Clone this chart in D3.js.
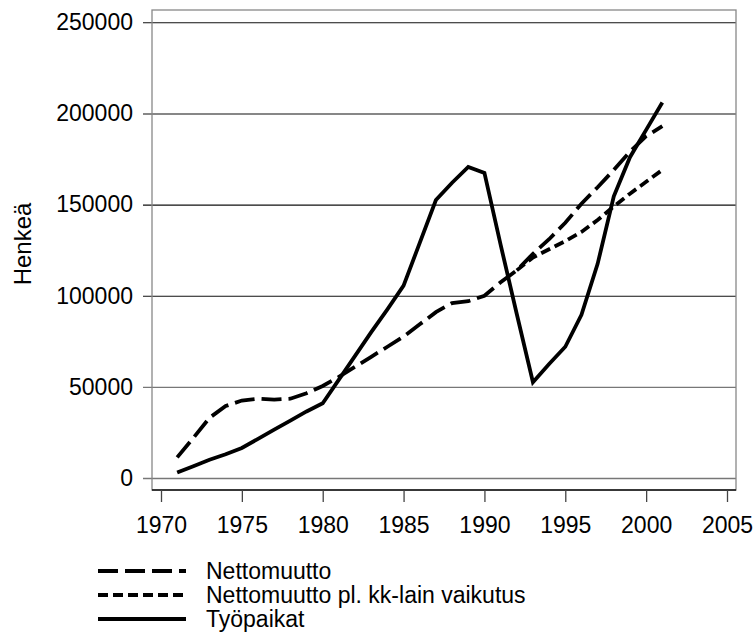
<!DOCTYPE html>
<html>
<head>
<meta charset="utf-8">
<script src="https://cdn.jsdelivr.net/npm/d3@7"></script>
<style>
  html, body { margin: 0; padding: 0; background: #fff; }
  svg { display: block; font-family: "Liberation Sans", Arial, sans-serif; }
</style>
</head>
<body>
<svg id="chart" width="756" height="632"></svg>
<script>
// ---- data ----
const years = [1971,1972,1973,1974,1975,1976,1977,1978,1979,1980,
               1981,1982,1983,1984,1985,1986,1987,1988,1989,1990,
               1991,1992,1993,1994,1995,1996,1997,1998,1999,2000,2001];
const nettomuutto = [11300,22000,33000,39500,42500,43500,43000,43500,46500,50500,
                     55500,61000,66500,72000,77600,84300,91000,96000,97000,100000,
                     107400,113900,123000,131000,140000,150500,159500,169000,179000,187500,193000];
const nettomuuttoPl = [null,null,null,null,null,null,null,null,null,null,
                       null,null,null,null,null,null,null,null,null,null,
                       null,113900,121000,125500,130000,135000,141500,149000,156000,162500,169000];
const tyopaikat = [3000,6500,10000,13000,16500,21500,26500,31500,36500,41000,
                   54000,67000,80000,92500,105500,129000,152500,162000,170700,167400,
                   128000,90000,52500,62500,72000,89500,117500,154500,176000,191000,206000];
const yTicks = [0,50000,100000,150000,200000,250000];
const xTicks = [1970,1975,1980,1985,1990,1995,2000,2005];
const seriesNames = ["Nettomuutto","Nettomuutto pl. kk-lain vaikutus","Työpaikat"];
const yLabel = "Henkeä";

// ---- layout ----
const svg = d3.select("#chart");
const plot = {left:152, right:736, top:10, bottom:490};
const x = d3.scaleLinear().domain([1970,2005]).range([161,727]);
const y = d3.scaleLinear().domain([0,250000]).range([478,22.3]);
const FS = 23;

// gridlines + y ticks
const yAxis = d3.axisLeft(y).tickValues(yTicks).tickFormat(d3.format("d"))
  .tickSize(-(plot.right - 143)).tickPadding(10);
const gy = svg.append("g").attr("transform",`translate(143,0)`).call(yAxis);
gy.select(".domain").remove();
gy.selectAll(".tick line").attr("stroke","#111").attr("stroke-width",1.1);
gy.selectAll(".tick text").attr("font-size",FS).attr("fill","#000")
  .attr("font-family","Liberation Sans, Arial, sans-serif").attr("x",-10);
gy.selectAll(".tick").filter(d => d <= 50000).select("line").attr("stroke","#777").attr("stroke-width",1.4);

// frame
svg.append("rect").attr("x",plot.left).attr("y",plot.top)
  .attr("width",plot.right-plot.left).attr("height",plot.bottom-plot.top)
  .attr("fill","none").attr("stroke","#888").attr("stroke-width",1.3);
svg.append("line").attr("x1",plot.left).attr("x2",plot.right)
  .attr("y1",plot.bottom).attr("y2",plot.bottom).attr("stroke","#111").attr("stroke-width",1.3);

// x axis
const xAxis = d3.axisBottom(x).tickValues(xTicks).tickFormat(d3.format("d"))
  .tickSize(12).tickPadding(15);
const gx = svg.append("g").attr("transform",`translate(0,${plot.bottom})`).call(xAxis);
gx.select(".domain").remove();
gx.selectAll(".tick line").attr("stroke","#444").attr("stroke-width",1.3);
gx.selectAll(".tick text").attr("font-size",FS).attr("fill","#000")
  .attr("font-family","Liberation Sans, Arial, sans-serif");

// y label
svg.append("text").attr("transform","translate(31,244) rotate(-90)")
  .attr("text-anchor","middle").attr("font-size",FS+1).text(yLabel);

// lines
const line = d3.line().defined(d => d[1] != null)
  .x(d => x(d[0])).y(d => y(d[1]));
const styles = [
  {data: nettomuutto, dash: "20,7"},
  {data: nettomuuttoPl, dash: "10,5"},
  {data: tyopaikat, dash: null}
];
styles.forEach(s => {
  svg.append("path").datum(years.map((yr,i) => [yr, s.data[i]]))
    .attr("d", line).attr("fill","none").attr("stroke","#000")
    .attr("stroke-width",3.8).attr("stroke-linejoin","miter")
    .attr("stroke-dasharray", s.dash);
});

// legend
const leg = svg.append("g");
seriesNames.forEach((name,i) => {
  const by = 579 + i*24;
  leg.append("line").attr("x1",98).attr("x2",186).attr("y1",by-8).attr("y2",by-8)
    .attr("stroke","#000").attr("stroke-width",3.8).attr("stroke-dasharray", styles[i].dash);
  leg.append("text").attr("x",206).attr("y",by).attr("font-size",FS).text(name);
});
</script>
</body>
</html>
